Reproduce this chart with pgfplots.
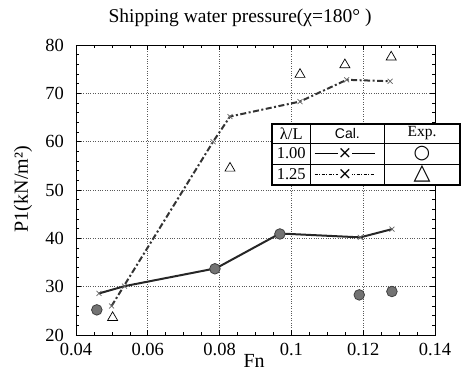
\documentclass[border=0pt]{standalone}
\usepackage{fontspec}
\setmainfont{Liberation Serif}
\newfontfamily\symfont{DejaVu Sans}
\newfontfamily\sansf{Liberation Sans}
\usepackage{pgfplots}
\pgfplotsset{compat=1.18}
\begin{document}
\begin{tikzpicture}
\path[use as bounding box] (-76pt,-39pt) rectangle (385pt,335pt);
\begin{axis}[
  at={(0pt,0pt)}, anchor=south west,
  scale only axis, width=359pt, height=290pt,
  xmin=0.04, xmax=0.14, ymin=20, ymax=80,
  xtick={0.04,0.06,0.08,0.1,0.12,0.14},
  xticklabels={0.04,0.06,0.08,0.1,0.12,0.14},
  ytick={20,30,40,50,60,70,80},
  yticklabels={20,30,40,50,60,70,80},
  scaled x ticks=false,
  minor x tick num=3, minor y tick num=4,
  grid=major,
  major grid style={black!65, dotted, line width=0.8pt},
  axis line style={line width=0.8pt},
  major tick length=5pt, minor tick length=3pt,
  tick style={black, line width=0.6pt},
  clip=false,
  xticklabel style={font=\fontsize{18.5}{20}\selectfont, anchor=base, yshift=-21pt},
  yticklabel style={font=\fontsize{18.5}{20}\selectfont, anchor=east, inner sep=0pt, xshift=-12pt},
  title={Shipping water pressure(χ=180° )},
  title style={font=\fontsize{19.5}{21}\selectfont, at={(axis description cs:0.457,1)}, anchor=base, yshift=16pt},
  xlabel={Fn},
  xlabel style={font=\fontsize{20}{21}\selectfont, at={(axis description cs:0.496,0)}, anchor=base, yshift=-33pt},
  ylabel={P1(kN/m²)},
  ylabel style={font=\fontsize{20}{21}\selectfont, at={(axis description cs:-0.134,0.503)}, anchor=base},
]
% Cal. lambda/L = 1.00
\addplot[black!85, line width=2pt, mark=x, mark size=3.5pt,
  mark options={solid, line width=0.7pt, black!60}]
  coordinates {(0.0464,28.6) (0.0535,30.1) (0.0790,33.8) (0.0968,41.0) (0.1192,40.2) (0.1280,41.9)};
% Cal. lambda/L = 1.25
\addplot[black!80, line width=2pt, dash pattern=on 6pt off 2.5pt on 2pt off 2.5pt,
  mark=x, mark size=3.5pt, mark options={solid, line width=0.7pt, black!60}]
  coordinates {(0.0499,26.0) (0.0782,60.0) (0.0829,65.2) (0.1024,68.3) (0.1154,72.8) (0.1275,72.5)};
% Exp. lambda/L = 1.00
\addplot[only marks, mark=*, mark size=5.3pt,
  mark options={fill=black!55, draw=black!75, line width=0.8pt}]
  coordinates {(0.0458,25.2) (0.0787,33.7) (0.0968,40.9) (0.1189,28.3) (0.1280,29.0)};
% Exp. lambda/L = 1.25
\addplot[only marks, mark=triangle, mark size=5.8pt,
  mark options={black, line width=0.7pt}]
  coordinates {(0.0502,23.6) (0.0829,54.5) (0.1024,73.9) (0.1149,75.9) (0.1278,77.5)};
\end{axis}
% legend table
\draw[line width=1.4pt, fill=white] (196pt,211pt) rectangle (384pt,150pt);
\draw[line width=0.9pt] (234.7pt,211pt) -- (234.7pt,150pt);
\draw[line width=0.9pt] (308pt,211pt) -- (308pt,150pt);
\draw[line width=0.9pt] (196pt,192pt) -- (384pt,192pt);
\draw[line width=0.9pt] (196pt,171pt) -- (384pt,171pt);
\node[font=\fontsize{16.5}{18}\selectfont] at (215.3pt,201.5pt) {λ/L};
\node[font=\sansf\fontsize{14}{16}\selectfont] at (271.4pt,201.5pt) {Cal.};
\node[font=\fontsize{15.5}{17}\selectfont] at (346pt,201.5pt) {Exp.};
\node[font=\fontsize{16.5}{18}\selectfont] at (215.3pt,181.5pt) {1.00};
\node[font=\fontsize{16.5}{18}\selectfont] at (215.3pt,160.5pt) {1.25};
\draw[line width=0.9pt] (238.7pt,181.5pt) -- (298.7pt,181.5pt);
\draw[line width=0.9pt, dash pattern=on 3pt off 1.5pt on 1pt off 1.5pt] (238.7pt,160.5pt) -- (298.7pt,160.5pt);
\node[font=\symfont\fontsize{17}{17}\selectfont, inner sep=0pt, fill=white] at (269pt,181.5pt) {×};
\node[font=\symfont\fontsize{17}{17}\selectfont, inner sep=0pt, fill=white] at (269pt,160.5pt) {×};
\node[font=\symfont\fontsize{19}{19}\selectfont, inner sep=0pt] at (346pt,181.5pt) {○};
\node[font=\symfont\fontsize{22}{22}\selectfont, inner sep=0pt] at (346pt,161pt) {△};
\end{tikzpicture}
\end{document}
